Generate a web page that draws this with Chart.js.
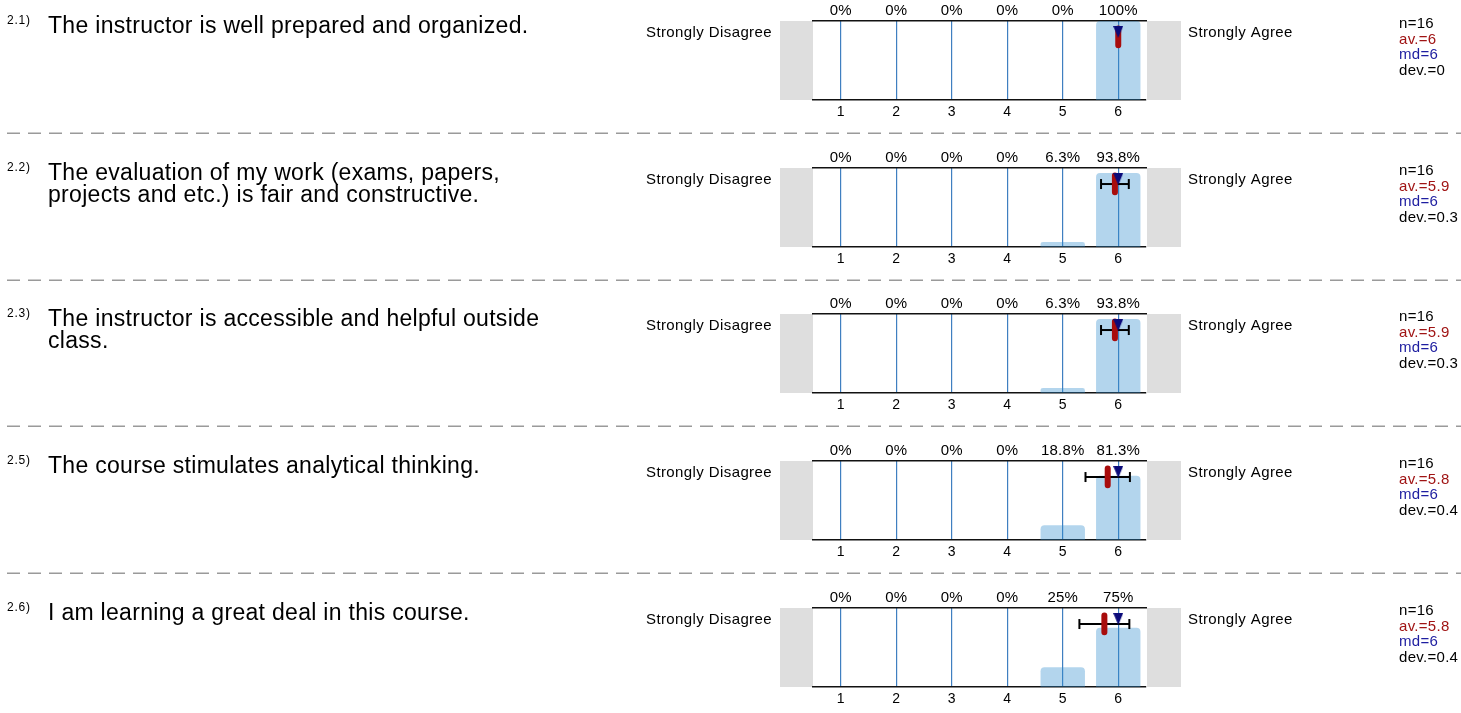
<!DOCTYPE html>
<html>
<head>
<meta charset="utf-8">
<script src="https://cdn.jsdelivr.net/npm/chart.js@4"></script>
<style>
  html, body { margin: 0; padding: 0; background: #fff; }
  #wrap { position: relative; width: 1461px; height: 713px; overflow: hidden; }
  #wrap canvas { position: absolute; left: 0; }
</style>
</head>
<body>
<div id="wrap"></div>
<script>
// survey items
const questionNums = ['2.1)', '2.2)', '2.3)', '2.5)', '2.6)'];
const questionLines = [
  ['The instructor is well prepared and organized.'],
  ['The evaluation of my work (exams, papers,', 'projects and etc.) is fair and constructive.'],
  ['The instructor is accessible and helpful outside', 'class.'],
  ['The course stimulates analytical thinking.'],
  ['I am learning a great deal in this course.']
];
const scaleLabels = ['1', '2', '3', '4', '5', '6'];
// percent of answers per scale point
const pct = [
  [0, 0, 0, 0, 0, 100],
  [0, 0, 0, 0, 6.3, 93.8],
  [0, 0, 0, 0, 6.3, 93.8],
  [0, 0, 0, 0, 18.8, 81.3],
  [0, 0, 0, 0, 25, 75]
];
const nResp = [16, 16, 16, 16, 16];
const means = [6, 5.94, 5.94, 5.81, 5.75];
const medians = [6, 6, 6, 6, 6];
const devs = [0, 0.25, 0.25, 0.4, 0.45];
const avText = ['6', '5.9', '5.9', '5.8', '5.8'];
const devText = ['0', '0.3', '0.3', '0.4', '0.4'];

const FONT = '"Liberation Sans", Arial, Helvetica, sans-serif';
Chart.defaults.font.family = FONT;
Chart.defaults.color = '#000';

const ROW_PITCH = 146.67;
const ROW_H = 146;

// median marker: narrow down-pointing triangle
const tri = document.createElement('canvas');
tri.width = 10; tri.height = 12;
(function () {
  const c = tri.getContext('2d');
  c.fillStyle = '#0b0b7a';
  c.beginPath();
  c.moveTo(0, 0); c.lineTo(10, 0); c.lineTo(5, 12);
  c.closePath(); c.fill();
})();

function txt(ctx, s, x, y, size, color, align, ls) {
  ctx.save();
  ctx.font = size + 'px ' + FONT;
  ctx.fillStyle = color;
  ctx.textAlign = align || 'left';
  ctx.textBaseline = 'alphabetic';
  ctx.letterSpacing = (ls || 0) + 'px';
  ctx.fillText(s, x, y);
  ctx.restore();
}

const rowDecor = {
  id: 'rowDecor',
  beforeDraw(chart, args, opts) {
    const ctx = chart.ctx, a = chart.chartArea;
    ctx.save();
    ctx.fillStyle = '#dedede';
    ctx.fillRect(a.left - 33, a.top, 33, a.bottom - a.top);
    ctx.fillRect(a.right + 1, a.top, 34, a.bottom - a.top);
    ctx.restore();
    ctx.letterSpacing = '0.2px';
  },
  afterDraw(chart, args, opts) {
    const ctx = chart.ctx, a = chart.chartArea, i = opts.index;
    const T = a.top;
    txt(ctx, questionNums[i], 7, T + 3, 12, '#000', 'left', 0.8);
    questionLines[i].forEach((line, k) => {
      txt(ctx, line, 48, T + 11.5 + k * 22.5, 23, '#000', 'left', 0.3);
    });
    txt(ctx, 'Strongly Disagree', 772, T + 15.5, 15, '#000', 'right', 0.4);
    txt(ctx, 'Strongly Agree', 1188, T + 15.5, 15, '#000', 'left', 0.4);
    txt(ctx, 'n=' + nResp[i], 1399, T + 7.3, 15, '#000', 'left', 0.3);
    txt(ctx, 'av.=' + avText[i], 1399, T + 22.8, 15, '#a01414', 'left', 0.3);
    txt(ctx, 'md=' + medians[i], 1399, T + 38.3, 15, '#1e1ea0', 'left', 0.3);
    txt(ctx, 'dev.=' + devText[i], 1399, T + 53.8, 15, '#000', 'left', 0.3);
    if (i < questionNums.length - 1) {
      ctx.save();
      ctx.strokeStyle = '#9a9a9a';
      ctx.lineWidth = 1.5;
      ctx.setLineDash([13, 8]);
      ctx.beginPath();
      ctx.moveTo(7, T + 112.3);
      ctx.lineTo(1461, T + 112.3);
      ctx.stroke();
      ctx.restore();
    }
  }
};

const wrap = document.getElementById('wrap');

questionNums.forEach((q, i) => {
  const cv = document.createElement('canvas');
  cv.width = 1461; cv.height = ROW_H;
  cv.style.width = '1461px'; cv.style.height = ROW_H + 'px';
  cv.style.top = Math.round(i * ROW_PITCH) + 'px';
  wrap.appendChild(cv);

  const datasets = [
    {
      type: 'scatter',
      xAxisID: 'x2', yAxisID: 'y',
      data: [{ x: medians[i], y: 86.1 }],
      pointStyle: tri, pointRadius: 6
    },
    {
      type: 'line',
      xAxisID: 'x2', yAxisID: 'y',
      data: [{ x: means[i], y: 90.5 }, { x: means[i], y: 69.2 }],
      borderColor: '#a80c0c', borderWidth: 6, borderCapStyle: 'round',
      pointRadius: 0
    }
  ];
  if (devs[i] > 0) {
    datasets.push({
      type: 'line',
      xAxisID: 'x2', yAxisID: 'y',
      data: [{ x: means[i] - devs[i], y: 79.7 }, { x: means[i] + devs[i], y: 79.7 }],
      borderColor: '#000', borderWidth: 2,
      pointStyle: 'line', pointRotation: 90, pointRadius: 5,
      pointBorderWidth: 2, pointBorderColor: '#000'
    });
  }
  datasets.push({
    type: 'bar',
    xAxisID: 'x', yAxisID: 'y',
    data: pct[i],
    grouped: false,
    backgroundColor: 'rgba(50,140,205,0.37)',
    borderWidth: 0,
    borderRadius: { topLeft: 4, topRight: 4 },
    borderSkipped: 'bottom',
    categoryPercentage: 0.8,
    barPercentage: 1
  });

  new Chart(cv.getContext('2d'), {
    type: 'bar',
    data: { labels: scaleLabels, datasets: datasets },
    options: {
      responsive: false,
      devicePixelRatio: 1,
      animation: false,
      layout: { padding: { left: 813, right: 315, top: 0, bottom: 26 } },
      plugins: {
        legend: { display: false },
        tooltip: { enabled: false },
        rowDecor: { index: i }
      },
      scales: {
        x: {
          type: 'category',
          position: 'bottom',
          offset: true,
          grid: { offset: false, color: '#3f7fc0', lineWidth: 1.2, drawTicks: false },
          border: { display: true, color: '#111', width: 1.5 },
          ticks: { padding: 4, font: { size: 14 } },
          afterFit(s) { s.height = 20; }
        },
        xTop: {
          type: 'category',
          position: 'top',
          labels: pct[i].map(v => v + '%'),
          offset: true,
          grid: { display: false, drawTicks: false },
          border: { display: true, color: '#111', width: 1.5 },
          ticks: { padding: 1.5, font: { size: 15 } },
          afterFit(s) { s.height = 21; }
        },
        x2: {
          type: 'linear',
          display: false,
          offset: false,
          min: 0.5,
          max: 6.5
        },
        y: {
          display: false,
          min: 0,
          max: 100
        }
      }
    },
    plugins: [rowDecor]
  });
});
</script>
</body>
</html>
